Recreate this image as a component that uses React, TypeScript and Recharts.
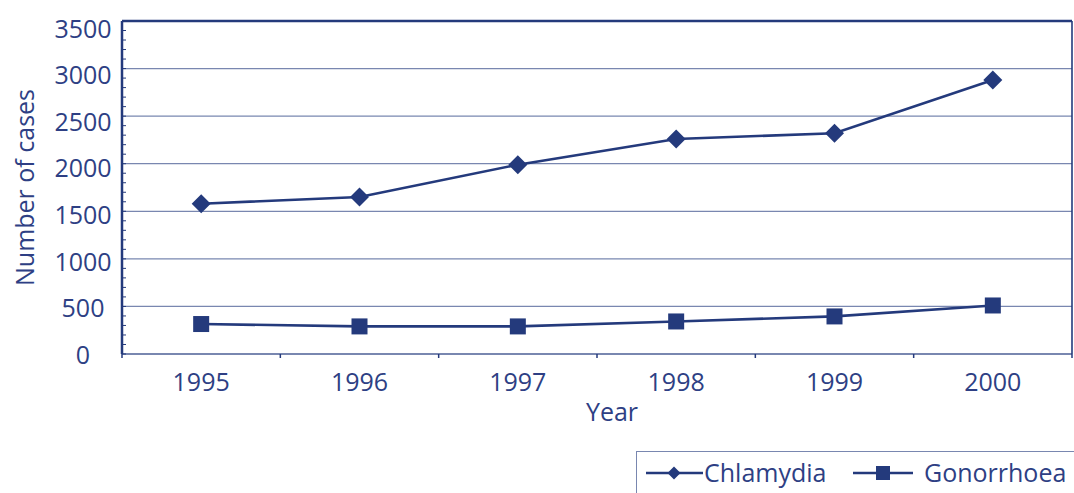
import { LineChart, Line, XAxis, YAxis, ReferenceLine, Legend } from 'recharts';

const years = [1995, 1996, 1997, 1998, 1999, 2000];
const chlamydia = [1580, 1650, 1990, 2260, 2320, 2880];
const gonorrhoea = [315, 290, 290, 342, 395, 510];

const yLabels = [0, 500, 1000, 1500, 2000, 2500, 3000, 3500];
const yMinor = Array.from({ length: 36 }, (_, i) => i * 100);
const gridValues = [500, 1000, 1500, 2000, 2500, 3000];
const xTicks = [1994.5, 1995, 1995.5, 1996, 1996.5, 1997, 1997.5, 1998, 1998.5, 1999, 1999.5, 2000, 2000.5];

const data = years.map((year, i) => ({ year, Chlamydia: chlamydia[i], Gonorrhoea: gonorrhoea[i] }));

const NAVY = '#243a7c';
const TEXT = '#2e3f84';
const GRID = '#7987b0';
const FONT = '"Open Sans", sans-serif';

const Diamond = ({ cx, cy, half = 9.5 }: any) => (
  <path d={`M${cx},${cy - half}L${cx + half},${cy}L${cx},${cy + half}L${cx - half},${cy}Z`} fill={NAVY} />
);
const Square = ({ cx, cy, side = 16 }: any) => (
  <rect x={cx - side / 2} y={cy - side / 2} width={side} height={side} fill={NAVY} />
);

const XTick = ({ x, y, payload }: any) => {
  const v = payload.value;
  if (Number.isInteger(v)) {
    return (
      <text x={x} y={y + 37} textAnchor="middle" fill={TEXT} fontSize={25} fontFamily={FONT}>
        {v}
      </text>
    );
  }
  return <line x1={x} x2={x} y1={y} y2={y + 4} stroke={NAVY} strokeWidth={1.5} />;
};

const YTick = ({ x, y, payload }: any) => {
  const v = payload.value;
  const minor = <line x1={x} x2={x + 4} y1={y} y2={y} stroke={NAVY} strokeWidth={1} />;
  if (!yLabels.includes(v)) return minor;
  // labels sit a touch lower than the grid toward the top, as in the original
  const dy = 1 + (v / 3500) * 6.5;
  return (
    <g>
      {minor}
      <text x={x - 39} y={y + dy + 9} textAnchor="middle" fill={TEXT} fontSize={25} fontFamily={FONT}>
        {v}
      </text>
    </g>
  );
};

const LegendBox = () => (
  <div
    style={{
      width: 438,
      height: 42,
      borderLeft: `1.5px solid ${GRID}`,
      borderTop: `1.5px solid ${GRID}`,
      boxSizing: 'border-box',
      position: 'relative',
    }}
  >
    <svg width={438} height={42} style={{ position: 'absolute', left: 0, top: 0 }}>
      <line x1={9} x2={66} y1={21} y2={21} stroke={NAVY} strokeWidth={2.5} />
      <Diamond cx={37} cy={21} half={6.5} />
      <text x={67} y={30} fill={TEXT} fontSize={25} fontFamily={FONT}>Chlamydia</text>
      <line x1={216} x2={276} y1={21} y2={21} stroke={NAVY} strokeWidth={2.5} />
      <Square cx={246} cy={21} side={14} />
      <text x={287} y={30} fill={TEXT} fontSize={25} fontFamily={FONT}>Gonorrhoea</text>
    </svg>
  </div>
);

export default function App() {
  return (
    <div style={{ position: 'fixed', left: 0, top: 0, width: 1074, height: 493, overflow: 'hidden', background: '#fff' }}>
      <LineChart width={1074} height={493} data={data} margin={{ top: 21, right: 1, bottom: 0, left: 0 }}>
        {gridValues.map(v => (
          <ReferenceLine key={v} y={v} stroke={GRID} strokeWidth={1.3} />
        ))}
        <ReferenceLine y={3500} stroke={NAVY} strokeWidth={2.5} />
        <XAxis
          dataKey="year"
          type="number"
          domain={[1994.5, 2000.5]}
          ticks={xTicks}
          interval={0}
          height={139}
          tickSize={0}
          tickMargin={0}
          tickLine={false}
          axisLine={{ stroke: GRID, strokeWidth: 2 }}
          tick={<XTick />}
          label={{ value: 'Year', position: 'insideTop', offset: 49, dx: 15, fill: TEXT, fontSize: 25, fontFamily: FONT }}
        />
        <YAxis
          type="number"
          domain={[0, 3500]}
          ticks={yMinor}
          interval={0}
          width={122}
          tickSize={0}
          tickMargin={0}
          tickLine={false}
          axisLine={{ stroke: NAVY, strokeWidth: 2.5 }}
          tick={<YTick />}
          label={{ value: 'Number of cases', angle: -90, position: 'center', dx: -36, fill: TEXT, fontSize: 25, fontFamily: FONT }}
        />
        <YAxis
          yAxisId="frame"
          orientation="right"
          type="number"
          domain={[0, 3500]}
          width={1}
          tick={false}
          tickLine={false}
          axisLine={{ stroke: NAVY, strokeWidth: 1.6 }}
        />
        <Line
          dataKey="Chlamydia"
          stroke={NAVY}
          strokeWidth={2.6}
          dot={<Diamond />}
          activeDot={false}
          isAnimationActive={false}
        />
        <Line
          dataKey="Gonorrhoea"
          stroke={NAVY}
          strokeWidth={2.6}
          dot={<Square />}
          activeDot={false}
          isAnimationActive={false}
        />
        <Legend
          layout="vertical"
          align="center"
          verticalAlign="middle"
          content={<LegendBox />}
          wrapperStyle={{ left: 636, top: 451, width: 438, height: 42, right: 'auto', bottom: 'auto' }}
        />
      </LineChart>
    </div>
  );
}
